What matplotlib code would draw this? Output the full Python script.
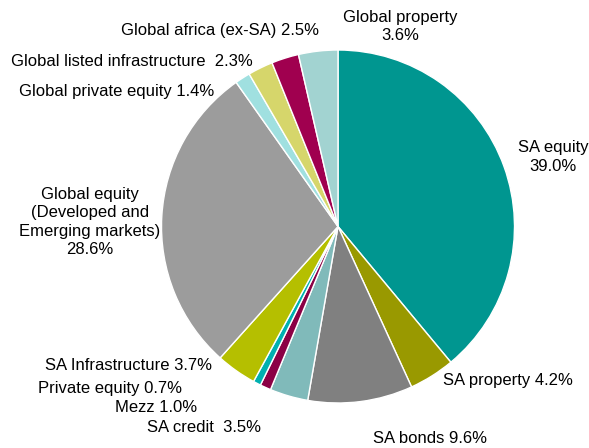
import matplotlib.pyplot as plt

plt.rcParams['font.family'] = ['Liberation Sans', 'DejaVu Sans']

names = ['SA equity', 'SA property', 'SA bonds', 'SA credit', 'Mezz',
         'Private equity', 'SA Infrastructure', 'Global equity',
         'Global private equity', 'Global listed infrastructure',
         'Global africa (ex-SA)', 'Global property']
shares = [39.0, 4.2, 9.6, 3.5, 1.0, 0.7, 3.7, 28.6, 1.4, 2.3, 2.5, 3.6]
colors = ['#009690', '#999900', '#808080', '#80baba', '#8b0045',
          '#00b0b0', '#b5bf00', '#9c9c9c', '#a0e0e0', '#d6d66b',
          '#a0004f', '#a2d3d1']

W, H = 589, 448
fig = plt.figure(figsize=(W / 100, H / 100), dpi=100)
ax = fig.add_axes([0, 0, 1, 1])

ax.pie(shares, colors=colors, startangle=90, counterclock=False,
       center=(338, H - 226.5), radius=176.5,
       wedgeprops=dict(edgecolor='white', linewidth=1))
ax.set_xlim(0, W)
ax.set_ylim(0, H)
ax.set_aspect('equal')
ax.axis('off')

# label text and pixel position (x, y from top), alignment
labels = [
    ('SA equity\n%.1f%%' % shares[0], 553, 157, 'center'),
    ('SA property %.1f%%' % shares[1], 443, 381, 'left'),
    ('SA bonds %.1f%%' % shares[2], 373, 438, 'left'),
    ('SA credit  %.1f%%' % shares[3], 147, 427, 'left'),
    ('Mezz %.1f%%' % shares[4], 115, 407, 'left'),
    ('Private equity %.1f%%' % shares[5], 38, 389, 'left'),
    ('SA Infrastructure %.1f%%' % shares[6], 45, 365, 'left'),
    ('Global equity\n(Developed and\nEmerging markets)\n%.1f%%' % shares[7], 90, 222, 'center'),
    ('Global private equity %.1f%%' % shares[8], 19, 91, 'left'),
    ('Global listed infrastructure  %.1f%%' % shares[9], 11, 61, 'left'),
    ('Global africa (ex-SA) %.1f%%' % shares[10], 121, 30, 'left'),
    ('Global property\n%.1f%%' % shares[11], 400, 26.5, 'center'),
]
for txt, x, y, ha in labels:
    ax.text(x, H - y, txt, ha=ha, va='center', fontsize=12,
            color='#000000', multialignment='center', linespacing=1.3)

fig.savefig('out.png', dpi=100)
